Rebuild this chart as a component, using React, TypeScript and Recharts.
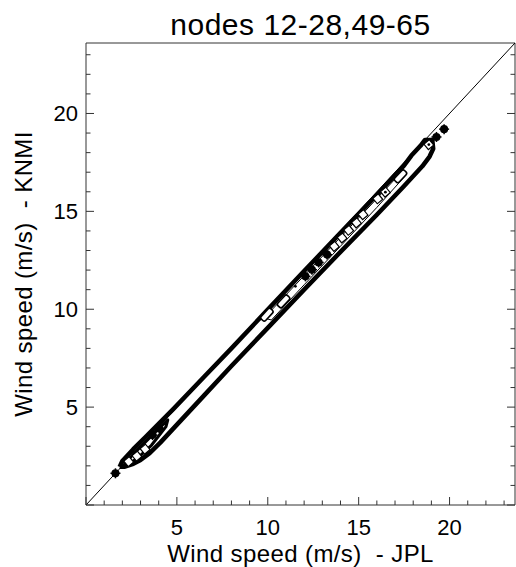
import { ScatterChart, Scatter, XAxis, YAxis, Label } from 'recharts';

// axis range is the same on both axes, so y = x runs corner to corner
const axisMin = 0;
const axisMax = 23.6;
const tickValues = [0, 1, 2, 3, 4, 5, 6, 7, 8, 9, 10, 11, 12, 13, 14, 15, 16, 17, 18, 19, 20, 21, 22, 23];
const labelledTicks = [5, 10, 15, 20];

// non-breaking space keeps the double gap (Text collapses plain spaces)
const titleText = 'nodes 12-28,49-65';
const xTitle = 'Wind speed (m/s)\u00A0 - JPL';
const yTitle = 'Wind speed (m/s)\u00A0 - KNMI';

// [JPL, KNMI] pairs
const diagonal = [[0, 0], [23.6, 23.6]];

const outerContour = [
  [1.85, 1.95], [2.0, 2.25], [2.6, 2.85], [3.3, 3.5], [4.8, 4.9], [6.5, 6.55], [8.0, 8.0],
  [10.0, 9.98], [12.0, 11.95], [14.0, 13.9], [16.0, 15.85], [17.5, 17.35], [17.9, 17.85],
  [18.4, 18.35], [18.65, 18.65], [19.05, 18.65], [19.1, 18.2], [18.9, 17.8], [18.5, 17.3],
  [17.5, 16.3], [16.0, 14.83], [14.0, 12.93], [12.0, 11.0], [10.0, 9.05], [8.0, 7.1],
  [6.5, 5.6], [4.8, 3.9], [4.1, 3.2], [3.5, 2.65], [3.0, 2.3], [2.6, 2.1], [2.1, 1.95], [1.85, 1.95],
];

const innerRing = [
  [9.8, 9.55], [10.0, 9.75], [12.0, 11.72], [14.0, 13.68], [16.0, 15.65], [17.4, 17.05],
  [17.6, 16.85], [16.0, 15.2], [14.0, 13.22], [12.0, 11.25], [10.2, 9.45], [9.8, 9.55],
];

const tipContour = [
  [2.05, 2.0], [2.6, 2.6], [3.3, 3.25], [4.0, 3.9], [4.5, 4.35], [4.4, 4.0],
  [3.6, 3.05], [2.9, 2.45], [2.3, 2.05], [2.05, 2.0],
];

const squareCells = [
  [2.35, 2.22], [2.8, 2.5], [3.25, 2.85], [13.66, 13.21], [14.09, 13.64], [14.45, 14.03],
  [14.88, 14.41], [15.24, 14.83], [16.05, 15.64], [16.47, 15.98], [18.86, 18.41],
];

const stretchedCells = [[9.95, 9.72], [10.87, 10.4], [17.3, 16.79]];

const peakBlobs = [
  [1.62, 1.62], [3.66, 3.57], [4.03, 3.91], [12.07, 11.68], [12.43, 12.02], [12.8, 12.39],
  [13.26, 12.79], [19.28, 18.8], [19.7, 19.2],
];

const peakDots = [[11.52, 11.17], [16.47, 15.98], [18.86, 18.41]];

const toPoints = (pairs: number[][]) => pairs.map(([x, y]) => ({ x, y }));

const font = "'Liberation Sans', Arial, Helvetica, sans-serif";
const frame = '#333';
const tickFont = 22;
const majorLen = 8;
const minorLen = 4.5;

const isMajor = (v: number) => v % 5 === 0;

function BottomTick({ x, y, payload }: any) {
  const v = payload.value;
  return (
    <g>
      <line x1={x} x2={x} y1={y} y2={y - (isMajor(v) ? majorLen : minorLen)} stroke={frame} />
      {labelledTicks.includes(v) && (
        <text x={x} y={y + 30} textAnchor="middle" fontSize={tickFont} fontFamily={font} fill="#000">{v}</text>
      )}
    </g>
  );
}

function TopTick({ x, y, payload }: any) {
  const v = payload.value;
  return <line x1={x} x2={x} y1={y} y2={y + (isMajor(v) ? majorLen : minorLen)} stroke={frame} />;
}

function LeftTick({ x, y, payload }: any) {
  const v = payload.value;
  return (
    <g>
      <line x1={x} x2={x + (isMajor(v) ? majorLen : minorLen)} y1={y} y2={y} stroke={frame} />
      {labelledTicks.includes(v) && (
        <text x={x - 8} y={y + 8} textAnchor="end" fontSize={tickFont} fontFamily={font} fill="#000">{v}</text>
      )}
    </g>
  );
}

function RightTick({ x, y, payload }: any) {
  const v = payload.value;
  return <line x1={x} x2={x - (isMajor(v) ? majorLen : minorLen)} y1={y} y2={y} stroke={frame} />;
}

const NoMark = () => <g />;

const SquareCell = ({ cx, cy }: any) => (
  <rect x={cx - 3.5} y={cy - 3.5} width={7} height={7} fill="#fff" stroke="#000" strokeWidth={1.2}
    transform={`rotate(-40 ${cx} ${cy})`} />
);

const StretchedCell = ({ cx, cy }: any) => (
  <rect x={cx - 7} y={cy - 3} width={14} height={6} rx={2} fill="#fff" stroke="#000" strokeWidth={1.6}
    transform={`rotate(-47 ${cx} ${cy})`} />
);

const Blob = ({ cx, cy }: any) => (
  <g stroke="#000" strokeWidth={1.5}>
    <circle cx={cx} cy={cy} r={3.3} fill="#000" />
    <line x1={cx - 5} x2={cx + 5} y1={cy} y2={cy} />
    <line x1={cx} x2={cx} y1={cy - 5} y2={cy + 5} />
  </g>
);

const Dot = ({ cx, cy }: any) => <circle cx={cx} cy={cy} r={1.4} fill="#000" />;

const axisProps = {
  type: 'number' as const,
  domain: [axisMin, axisMax],
  allowDataOverflow: true,
  ticks: tickValues,
  interval: 0 as const,
  tickLine: false,
  tickSize: 0,
  tickMargin: 0,
  axisLine: { stroke: frame, strokeWidth: 1 },
};

export default function App() {
  return (
    <div style={{ position: 'absolute', left: 0, top: 0, width: 516, height: 567, background: '#fff' }}>
      <ScatterChart width={516} height={567} margin={{ top: 0, right: 0, bottom: 0, left: 23 }}>
        <XAxis xAxisId="b" dataKey="x" orientation="bottom" height={62} tick={BottomTick} {...axisProps}>
          <Label value={xTitle} position="insideBottom" offset={5} fontSize={24} fontFamily={font} fill="#000"
            style={{ letterSpacing: 0.4 }} />
        </XAxis>
        <XAxis xAxisId="t" orientation="top" height={43} tick={TopTick} {...axisProps}>
          <Label value={titleText} position="insideTop" offset={14} fontSize={30} fontFamily={font} fill="#000"
            style={{ letterSpacing: 0.5 }} />
        </XAxis>
        <YAxis yAxisId="l" dataKey="y" orientation="left" width={63} tick={LeftTick} {...axisProps}>
          <Label value={yTitle} position="insideLeft" angle={-90} offset={0} fontSize={24} fontFamily={font}
            fill="#000" style={{ textAnchor: 'middle', letterSpacing: 0.4 }} />
        </YAxis>
        <YAxis yAxisId="r" orientation="right" width={1} tick={RightTick} {...axisProps} />

        <Scatter xAxisId="b" yAxisId="l" data={toPoints(diagonal)} shape={NoMark}
          line={{ stroke: '#000', strokeWidth: 1 }} isAnimationActive={false} />
        <Scatter xAxisId="b" yAxisId="l" data={toPoints(outerContour)} shape={NoMark}
          line={{ stroke: '#000', strokeWidth: 4.5, strokeLinejoin: 'round' }} isAnimationActive={false} />
        <Scatter xAxisId="b" yAxisId="l" data={toPoints(innerRing)} shape={NoMark}
          line={{ stroke: '#000', strokeWidth: 1, strokeLinejoin: 'round' }} isAnimationActive={false} />
        <Scatter xAxisId="b" yAxisId="l" data={toPoints(tipContour)} shape={NoMark}
          line={{ stroke: '#000', strokeWidth: 3, strokeLinejoin: 'round' }} isAnimationActive={false} />
        <Scatter xAxisId="b" yAxisId="l" data={toPoints(squareCells)} shape={SquareCell} isAnimationActive={false} />
        <Scatter xAxisId="b" yAxisId="l" data={toPoints(stretchedCells)} shape={StretchedCell} isAnimationActive={false} />
        <Scatter xAxisId="b" yAxisId="l" data={toPoints(peakBlobs)} shape={Blob} isAnimationActive={false} />
        <Scatter xAxisId="b" yAxisId="l" data={toPoints(peakDots)} shape={Dot} isAnimationActive={false} />
      </ScatterChart>
    </div>
  );
}
